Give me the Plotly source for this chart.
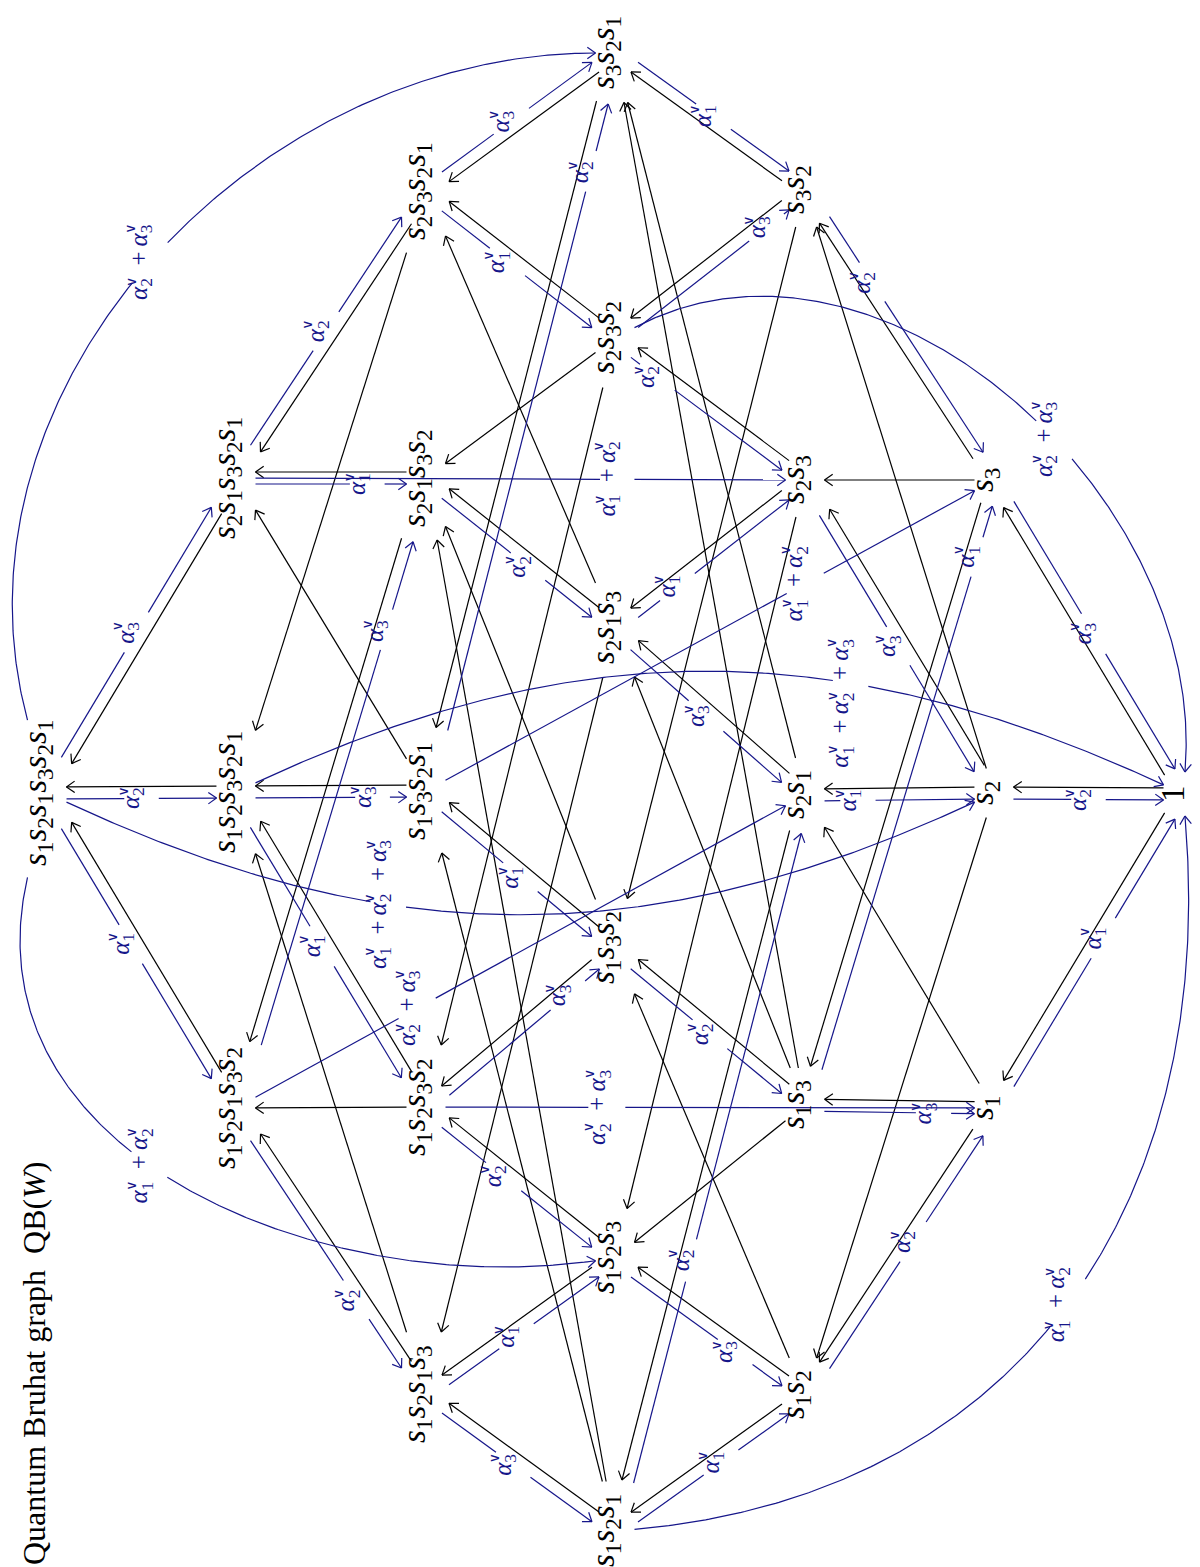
import math
import plotly.graph_objects as go

# ---------------- data: quantum Bruhat graph of W = S4 ----------------
NODES_LEN6 = ["s1s2s1s3s2s1"]
NODES_LEN5 = ["s2s1s3s2s1", "s1s2s3s2s1", "s1s2s1s3s2"]
NODES_LEN4 = ["s2s3s2s1", "s2s1s3s2", "s1s3s2s1", "s1s2s3s2", "s1s2s1s3"]
NODES_LEN3 = ["s3s2s1", "s2s3s2", "s2s1s3", "s1s3s2", "s1s2s3", "s1s2s1"]
NODES_LEN2 = ["s3s2", "s2s3", "s2s1", "s1s3", "s1s2"]
NODES_LEN1 = ["s3", "s2", "s1"]
NODES_LEN0 = ["1"]

# Bruhat edges (black), from shorter to longer element
BRUHAT_EDGES = [
    ("1", "s1"), ("1", "s2"), ("1", "s3"),
    ("s1", "s2s1"), ("s1", "s1s2"), ("s1", "s1s3"),
    ("s2", "s2s1"), ("s2", "s1s2"), ("s2", "s3s2"), ("s2", "s2s3"),
    ("s3", "s1s3"), ("s3", "s3s2"), ("s3", "s2s3"),
    ("s2s1", "s3s2s1"), ("s2s1", "s1s2s1"), ("s2s1", "s2s1s3"),
    ("s1s2", "s1s2s1"), ("s1s2", "s1s3s2"), ("s1s2", "s1s2s3"),
    ("s1s3", "s3s2s1"), ("s1s3", "s2s1s3"), ("s1s3", "s1s3s2"), ("s1s3", "s1s2s3"),
    ("s2s3", "s2s1s3"), ("s2s3", "s1s2s3"), ("s2s3", "s2s3s2"),
    ("s3s2", "s3s2s1"), ("s3s2", "s1s3s2"), ("s3s2", "s2s3s2"),
    ("s3s2s1", "s1s3s2s1"), ("s3s2s1", "s2s3s2s1"),
    ("s2s3s2", "s2s3s2s1"), ("s2s3s2", "s2s1s3s2"), ("s2s3s2", "s1s2s3s2"),
    ("s2s1s3", "s2s3s2s1"), ("s2s1s3", "s2s1s3s2"), ("s2s1s3", "s1s2s1s3"),
    ("s1s3s2", "s1s3s2s1"), ("s1s3s2", "s2s1s3s2"), ("s1s3s2", "s1s2s3s2"),
    ("s1s2s3", "s1s2s1s3"), ("s1s2s3", "s1s2s3s2"),
    ("s1s2s1", "s1s3s2s1"), ("s1s2s1", "s2s1s3s2"), ("s1s2s1", "s1s2s1s3"),
    ("s2s3s2s1", "s2s1s3s2s1"), ("s2s3s2s1", "s1s2s3s2s1"),
    ("s2s1s3s2", "s2s1s3s2s1"), ("s2s1s3s2", "s1s2s1s3s2"),
    ("s1s3s2s1", "s2s1s3s2s1"), ("s1s3s2s1", "s1s2s3s2s1"),
    ("s1s2s3s2", "s1s2s3s2s1"), ("s1s2s3s2", "s1s2s1s3s2"),
    ("s1s2s1s3", "s1s2s3s2s1"), ("s1s2s1s3", "s1s2s1s3s2"),
    ("s2s1s3s2s1", "s1s2s1s3s2s1"), ("s1s2s3s2s1", "s1s2s1s3s2s1"),
    ("s1s2s1s3s2", "s1s2s1s3s2s1"),
]

# Quantum edges (blue), from longer to shorter element, labelled by a coroot
QUANTUM_EDGES = [
    ("s1", "1", (1,)), ("s2", "1", (2,)), ("s3", "1", (3,)),
    ("s2s1", "s2", (1,)), ("s1s2", "s1", (2,)), ("s1s3", "s3", (1,)),
    ("s1s3", "s1", (3,)), ("s2s3", "s2", (3,)), ("s3s2", "s3", (2,)),
    ("s3s2s1", "s3s2", (1,)), ("s2s3s2", "s2s3", (2,)), ("s2s3s2", "s3s2", (3,)),
    ("s2s3s2", "1", (2, 3)),
    ("s2s1s3", "s2s3", (1,)), ("s2s1s3", "s2s1", (3,)), ("s1s3s2", "s1s3", (2,)),
    ("s1s2s3", "s1s2", (3,)),
    ("s1s2s1", "s1s2", (1,)), ("s1s2s1", "s2s1", (2,)), ("s1s2s1", "1", (1, 2)),
    ("s2s3s2s1", "s2s3s2", (1,)), ("s2s3s2s1", "s3s2s1", (3,)),
    ("s2s1s3s2", "s2s1s3", (2,)),
    ("s1s3s2s1", "s1s3s2", (1,)), ("s1s3s2s1", "s3s2s1", (2,)), ("s1s3s2s1", "s3", (1, 2)),
    ("s1s2s3s2", "s1s2s3", (2,)), ("s1s2s3s2", "s1s3s2", (3,)), ("s1s2s3s2", "s1", (2, 3)),
    ("s1s2s1s3", "s1s2s3", (1,)), ("s1s2s1s3", "s1s2s1", (3,)),
    ("s2s1s3s2s1", "s2s1s3s2", (1,)), ("s2s1s3s2s1", "s2s3s2s1", (2,)),
    ("s2s1s3s2s1", "s2s3", (1, 2)),
    ("s1s2s3s2s1", "s1s2s3s2", (1,)), ("s1s2s3s2s1", "s1s3s2s1", (3,)),
    ("s1s2s3s2s1", "1", (1, 2, 3)),
    ("s1s2s1s3s2", "s1s2s1s3", (2,)), ("s1s2s1s3s2", "s2s1s3s2", (3,)),
    ("s1s2s1s3s2", "s2s1", (2, 3)),
    ("s1s2s1s3s2s1", "s1s2s1s3s2", (1,)), ("s1s2s1s3s2s1", "s1s2s3s2s1", (2,)),
    ("s1s2s1s3s2s1", "s2s1s3s2s1", (3,)),
    ("s1s2s1s3s2s1", "s1s2s3", (1, 2)), ("s1s2s1s3s2s1", "s3s2s1", (2, 3)),
    ("s1s2s1s3s2s1", "s2", (1, 2, 3)),
]

TITLE = "Quantum Bruhat graph\u00a0\u00a0QB(<i>W</i>)"

# ---------------- layout (pixel space, picture is rotated) ----------------
COL_X = [39, 228, 418, 607, 797, 986, 1175]
ROW_Y = {
    "s1s2s1s3s2s1": 785,
    "s2s1s3s2s1": 470, "s1s2s3s2s1": 784, "s1s2s1s3s2": 1100,
    "s2s3s2s1": 183, "s2s1s3s2": 470, "s1s3s2s1": 783, "s1s2s3s2": 1099, "s1s2s1s3": 1386,
    "s3s2s1": 45, "s2s3s2": 330, "s2s1s3": 620, "s1s3s2": 940, "s1s2s3": 1250, "s1s2s1": 1523,
    "s3s2": 182, "s2s3": 472, "s2s1": 787, "s1s3": 1097, "s1s2": 1387,
    "s3": 472, "s2": 785, "s1": 1100,
    "1": 786,
}
COLUMNS = [NODES_LEN6, NODES_LEN5, NODES_LEN4, NODES_LEN3, NODES_LEN2, NODES_LEN1, NODES_LEN0]
XY = {}
for ci, col in enumerate(COLUMNS):
    for n in col:
        XY[n] = (COL_X[ci], ROW_Y[n])

BLACK = "#000000"
BLUE = "#16168a"
NODE_FONT = 33
LABEL_FONT = 25
VEE_FONT = 14
NODE_DX = -10
LABEL_DX = -9
PAIR_OFF = 6.0
ARROW_LEN = 10.0
ARROW_ANG = math.radians(35)
# em widths used to put the check mark over each alpha
A_W, S_W, P_W = 0.52, 0.35, 1.264
PLUS = "\u2002+\u2009"

# edges of the outer (upper) boundary: the quantum copy lies on the upper side
UPPER_SIDE = {("s1s2s1s3s2s1", "s2s1s3s2s1"), ("s2s1s3s2s1", "s2s3s2s1"),
              ("s2s3s2s1", "s3s2s1"), ("s3s2s1", "s3s2"), ("s3s2", "s3"), ("s3", "1")}

LABEL_T = {
    ("s1s2s1s3s2s1", "s2s1s3s2s1"): 0.5, ("s1s2s1s3s2s1", "s1s2s1s3s2"): 0.47,
    ("s2s1s3s2s1", "s2s1s3s2"): 0.69, ("s2s1s3s2s1", "s2s3s2s1"): 0.5,
    ("s1s2s3s2s1", "s1s2s3s2"): 0.48, ("s1s2s3s2s1", "s1s3s2s1"): 0.72,
    ("s1s2s1s3s2", "s1s2s1s3"): 0.66, ("s1s2s1s3s2", "s2s1s3s2"): 0.76,
    ("s2s3s2s1", "s2s3s2"): 0.45, ("s2s3s2s1", "s3s2s1"): 0.47,
    ("s2s1s3s2", "s2s1s3"): 0.56, ("s1s3s2s1", "s1s3s2"): 0.52,
    ("s1s3s2s1", "s3s2s1"): 0.84, ("s1s2s3s2", "s1s2s3"): 0.43,
    ("s1s2s3s2", "s1s3s2"): 0.73, ("s1s2s1s3", "s1s2s3"): 0.46,
    ("s1s2s1s3", "s1s2s1"): 0.48, ("s3s2s1", "s3s2"): 0.5,
    ("s2s3s2", "s2s3"): 0.24, ("s2s3s2", "s3s2"): 0.78,
    ("s2s1s3", "s2s3"): 0.31, ("s2s1s3", "s2s1"): 0.5,
    ("s1s3s2", "s1s3"): 0.52, ("s1s2s3", "s1s2"): 0.65,
    ("s1s2s1", "s1s2"): 0.54, ("s1s2s1", "s2s1"): 0.37,
    ("s2s1", "s2"): 0.28, ("s1s2", "s1"): 0.545, ("s1s3", "s3"): 0.88,
    ("s1s3", "s1"): 0.68, ("s2s3", "s2"): 0.52, ("s3s2", "s3"): 0.33,
    ("s1", "1"): 0.55, ("s3", "1"): 0.5,
    ("s2s1s3s2s1", "s2s3"): 0.67, ("s1s3s2s1", "s3"): 0.667,
    ("s1s2s3s2", "s1"): 0.32, ("s1s2s1s3s2", "s2s1"): 0.32,
}

# curved quantum edges: out angle, in angle (deg, y up), looseness, label t, label offset
CURVES = {
    ("s1s2s1s3s2s1", "s3s2s1"): (105, 180, 1.0, 0.5, (0, 0)),
    ("s1s2s1s3s2s1", "s1s2s3"): (257, 188, 1.05, 0.45, (0, 0)),
    ("s1s2s1s3s2s1", "s2"): (-25, 205, 1.0, 0.35, (0, 0)),
    ("s1s2s3s2s1", "1"): (25, 155, 1.0, 0.66, (0, 20)),
    ("s2s3s2", "1"): (28, 85, 1.0, 0.57, (0, 0)),
    ("s1s2s1", "1"): (5, 275, 1.1, 0.5, (0, 0)),
}


def box(n):
    cx, cy = XY[n]
    if n == "1":
        return cx, cy, 19.5, 22.0
    k = len(n) // 2
    return cx, cy, 19.5, 12.5 * k + 12.0


def border(n, ux, uy):
    cx, cy, hx, hy = box(n)
    tx = hx / abs(ux) if abs(ux) > 1e-9 else 1e9
    ty = hy / abs(uy) if abs(uy) > 1e-9 else 1e9
    t = min(tx, ty)
    return (cx + ux * t, cy + uy * t)


def unit(dx, dy):
    L = math.hypot(dx, dy)
    return dx / L, dy / L


def label_half(roots):
    return 17.0, {1: 19.0, 2: 41.0, 3: 65.0}[len(roots)]


def inside(p, c, h):
    return abs(p[0] - c[0]) <= h[0] and abs(p[1] - c[1]) <= h[1]


def add_poly(xs, ys, pts):
    for p in pts:
        xs.append(p[0])
        ys.append(p[1])
    xs.append(None)
    ys.append(None)


def add_arrow(xs, ys, tip, ux, uy):
    for s in (1, -1):
        a = s * ARROW_ANG
        rx = ux * math.cos(a) - uy * math.sin(a)
        ry = ux * math.sin(a) + uy * math.cos(a)
        add_poly(xs, ys, [(tip[0] - ARROW_LEN * rx, tip[1] - ARROW_LEN * ry), tip])


def split_by_box(pts, c, h):
    segs, cur = [], []
    for p in pts:
        if inside(p, c, h):
            if len(cur) > 1:
                segs.append(cur)
            cur = []
        else:
            cur.append(p)
    if len(cur) > 1:
        segs.append(cur)
    return segs


def coroot_text(roots):
    return PLUS.join("<i>\u03b1</i><sub>%d</sub>" % r for r in roots)


def vee_offsets(roots):
    f = LABEL_FONT
    n = len(roots)
    W = (n * (A_W + S_W) + (n - 1) * P_W) * f
    out = []
    for k in range(n):
        xt = -W / 2 + k * (A_W + S_W + P_W) * f + A_W * f + 0.5 * S_W * f
        yt = 0.40 * f
        out.append((-yt, -xt))
    return out


def node_text(w):
    if w == "1":
        return "1"
    return "".join("<i>s</i><sub>%s</sub>" % c for c in w[1::2])


bx, by = [], []
qx, qy = [], []
annotations = []

simple_q = {(a, b) for a, b, r in QUANTUM_EDGES if len(r) == 1}

# black Bruhat edges
for a, b in BRUHAT_EDGES:
    (ax, ay), (bbx, bby) = XY[a], XY[b]
    ux, uy = unit(bbx - ax, bby - ay)
    p0 = border(a, ux, uy)
    p1 = border(b, -ux, -uy)
    if (b, a) in simple_q:
        qux, quy = -ux, -uy
        nx, ny = -quy, qux
        if ny < 0 or (abs(ny) < 1e-9 and nx < 0):
            nx, ny = -nx, -ny
        if (b, a) in UPPER_SIDE:
            nx, ny = -nx, -ny
        sx, sy = -nx * PAIR_OFF, -ny * PAIR_OFF
        p0 = (p0[0] + sx, p0[1] + sy)
        p1 = (p1[0] + sx, p1[1] + sy)
    add_poly(bx, by, [p0, p1])
    add_arrow(bx, by, p1, ux, uy)

# blue quantum edges
for a, b, roots in QUANTUM_EDGES:
    hh = label_half(roots)
    if (a, b) in CURVES:
        oa, ia, loose, lt, loff = CURVES[(a, b)]
        do = (math.cos(math.radians(oa)), -math.sin(math.radians(oa)))
        di = (math.cos(math.radians(ia)), -math.sin(math.radians(ia)))
        p0 = border(a, *do)
        p3 = border(b, *di)
        L = 0.3915 * math.hypot(p3[0] - p0[0], p3[1] - p0[1]) * loose
        p1 = (p0[0] + L * do[0], p0[1] + L * do[1])
        p2 = (p3[0] + L * di[0], p3[1] + L * di[1])

        def bez(t):
            m = 1 - t
            return (m ** 3 * p0[0] + 3 * m * m * t * p1[0] + 3 * m * t * t * p2[0] + t ** 3 * p3[0],
                    m ** 3 * p0[1] + 3 * m * m * t * p1[1] + 3 * m * t * t * p2[1] + t ** 3 * p3[1])

        pts = [bez(i / 300) for i in range(301)]
        lc = bez(lt)
        lc = (lc[0] + loff[0], lc[1] + loff[1])
        for seg in split_by_box(pts, lc, hh):
            add_poly(qx, qy, seg)
        add_arrow(qx, qy, p3, -di[0], -di[1])
    else:
        (ax, ay), (bbx, bby) = XY[a], XY[b]
        ux, uy = unit(bbx - ax, bby - ay)
        p0 = border(a, ux, uy)
        p1 = border(b, -ux, -uy)
        sx = sy = 0.0
        if len(roots) == 1:
            nx, ny = -uy, ux
            if ny < 0 or (abs(ny) < 1e-9 and nx < 0):
                nx, ny = -nx, -ny
            if (a, b) in UPPER_SIDE:
                nx, ny = -nx, -ny
            sx, sy = nx * PAIR_OFF, ny * PAIR_OFF
        p0 = (p0[0] + sx, p0[1] + sy)
        p1 = (p1[0] + sx, p1[1] + sy)
        t = LABEL_T.get((a, b), 0.5)
        lc = (ax + t * (bbx - ax) + sx, ay + t * (bby - ay) + sy)
        pts = [(p0[0] + (p1[0] - p0[0]) * i / 200, p0[1] + (p1[1] - p0[1]) * i / 200) for i in range(201)]
        for seg in split_by_box(pts, lc, hh):
            add_poly(qx, qy, [seg[0], seg[-1]])
        add_arrow(qx, qy, p1, ux, uy)
    annotations.append(dict(x=lc[0] + LABEL_DX, y=lc[1], text=coroot_text(roots), showarrow=False,
                            textangle=-90, xref="x", yref="y", xanchor="center", yanchor="middle",
                            font=dict(family="Liberation Serif", size=LABEL_FONT, color=BLUE)))
    for dx, dy in vee_offsets(roots):
        annotations.append(dict(x=lc[0] + LABEL_DX + dx, y=lc[1] + dy, text="\u2228", showarrow=False,
                                textangle=-90, xref="x", yref="y", xanchor="center", yanchor="middle",
                                font=dict(family="DejaVu Sans", size=VEE_FONT, color=BLUE)))

for col in COLUMNS:
    for n in col:
        x, y = XY[n]
        annotations.append(dict(x=x + NODE_DX, y=y, text=node_text(n), showarrow=False, textangle=-90,
                                xref="x", yref="y", xanchor="center", yanchor="middle",
                                font=dict(family="Liberation Serif", size=NODE_FONT, color="black")))

annotations.append(dict(x=26, y=1356, text=TITLE, showarrow=False, textangle=-90,
                        xref="x", yref="y", xanchor="center", yanchor="middle",
                        font=dict(family="Liberation Serif", size=32, color="black")))

fig = go.Figure()
fig.add_trace(go.Scatter(x=bx, y=by, mode="lines", line=dict(color=BLACK, width=1.2),
                         hoverinfo="skip", showlegend=False))
fig.add_trace(go.Scatter(x=qx, y=qy, mode="lines", line=dict(color=BLUE, width=1.2),
                         hoverinfo="skip", showlegend=False))
fig.update_layout(
    width=1200, height=1567, margin=dict(l=0, r=0, t=0, b=0),
    paper_bgcolor="white", plot_bgcolor="white",
    xaxis=dict(range=[0, 1200], visible=False, fixedrange=True),
    yaxis=dict(range=[1567, 0], visible=False, fixedrange=True),
    annotations=annotations, showlegend=False,
)
fig.write_html("out.html")
